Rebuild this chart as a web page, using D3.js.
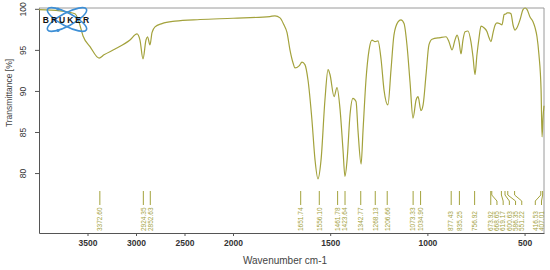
<!DOCTYPE html>
<html>
<head>
<meta charset="utf-8">
<script src="https://cdn.jsdelivr.net/npm/d3@7"></script>
<style>
  body { margin: 0; background: #fff; }
  svg { display: block; font-family: "Liberation Sans", Arial, sans-serif; }
</style>
</head>
<body>
<div id="chart"></div>
<script>
// Spectre IR (wavenumber cm-1 -> transmittance %)
const wavenumbers = [4000, 3784, 3629, 3588, 3546, 3474, 3381, 3330, 3216, 3062, 2990, 2959, 2928, 2897, 2881, 2856, 2835, 2804, 2732, 2598, 2340, 2000,
  1810, 1784, 1758, 1738, 1722, 1707, 1691, 1681, 1660, 1645, 1630, 1614, 1594, 1578, 1563, 1547, 1527, 1511, 1501, 1480, 1465, 1449, 1434, 1424,
  1413, 1398, 1383, 1367, 1357, 1341, 1331, 1316, 1300, 1285, 1269, 1254, 1238, 1223, 1203, 1187, 1172, 1151, 1136, 1120, 1105, 1089, 1074,
  1058, 1048, 1033, 1022, 1007, 992, 976, 935, 904, 889, 873, 858, 847, 837, 827, 817, 806, 791, 776, 765, 755, 745, 734, 724, 709, 693, 683,
  673, 662, 652, 642, 626, 616, 605, 595, 590, 580, 570, 559, 549, 539, 523, 508, 497, 487, 472, 456, 446, 436, 426, 415, 410, 405, 400];
const transmittance = [99.9, 99.75, 99.4, 98.4, 96.7, 95.4, 94.0, 94.4, 95.1, 96.2, 96.95, 96.2, 93.9, 96.2, 96.6, 95.6, 97.1, 97.8, 98.2, 98.5, 98.7, 98.85,
  99.06, 99.15, 98.9, 98.05, 97.1, 95.0, 93.4, 92.8, 93.05, 93.5, 93.2, 91.3, 86.5, 81.6, 79.3, 81.6, 88.9, 92.6, 92.0, 89.3, 90.4, 87.7, 82.8, 79.6,
  81.6, 87.1, 89.1, 88.7, 85.2, 81.1, 85.2, 91.3, 95.0, 96.2, 96.0, 96.1, 93.8, 90.1, 88.3, 92.6, 96.8, 98.4, 98.65, 98.2, 95.6, 91.0, 86.7,
  88.9, 89.3, 87.6, 88.3, 91.95, 95.6, 96.3, 96.5, 96.6, 96.0, 95.0, 96.2, 96.8, 96.0, 94.5, 96.2, 97.2, 97.3, 96.0, 94.1, 92.0, 94.4, 96.5, 97.9, 97.7, 97.2, 96.5,
  96.0, 97.1, 98.0, 98.3, 98.17, 98.05, 99.3, 99.4, 99.5, 99.5, 99.4, 98.0, 97.4, 97.7, 98.7, 99.9, 100.1, 99.9, 99.0, 98.4, 97.7, 96.6, 94.4, 90.1, 84.4, 86.8, 88.2];

// Pics annotés
const peaks = [3372.60, 2924.35, 2852.63, 1651.74, 1556.10, 1461.78, 1423.64, 1342.77, 1268.13, 1206.66, 1073.33, 1034.90,
  877.43, 835.25, 756.92, 673.92, 668.65, 619.17, 600.63, 586.35, 551.22, 416.53, 407.01];

const xTicks = [3500, 3000, 2500, 2000, 1500, 1000, 500];
const yTicks = [80, 85, 90, 95, 100];

const width = 550;
const height = 270;
const margin = { top: 8, right: 6, bottom: 37, left: 39 };
const olive = "#a3a23c";

const svg = d3.select("#chart").append("svg")
  .attr("width", width)
  .attr("height", height);

// Échelle x en deux segments (compression au-dessus de 2000)
const x = d3.scaleLinear()
  .domain([4000, 2000, 400])
  .range([margin.left, 233, width - margin.right]);

const y = d3.scaleLinear()
  .domain([72.7, 100.1])
  .range([height - margin.bottom, margin.top]);

// Cadre
svg.append("path")
  .attr("d", `M${margin.left},${margin.top}H${width - margin.right}V${height - margin.bottom}`)
  .attr("fill", "none")
  .attr("stroke", "#9a9a9a")
  .attr("stroke-width", 1);

// Axes
const xAxis = svg.append("g")
  .attr("transform", `translate(0,${height - margin.bottom})`)
  .call(d3.axisBottom(x).tickValues(xTicks).tickSize(3).tickSizeOuter(0).tickFormat(d3.format("d")));
xAxis.selectAll("text")
  .attr("y", 7)
  .style("font-size", "8.5px")
  .style("font-weight", "bold")
  .style("fill", "#333");

const yAxis = svg.append("g")
  .attr("transform", `translate(${margin.left},0)`)
  .call(d3.axisLeft(y).tickValues(yTicks).tickSize(4).tickSizeOuter(0));
yAxis.selectAll("text")
  .attr("x", 0)
  .attr("dy", 0)
  .attr("transform", "translate(-13,0) rotate(-90)")
  .attr("text-anchor", "middle")
  .style("font-size", "8.5px")
  .style("fill", "#333");

svg.selectAll(".domain, .tick line").attr("stroke", "#555");

// Titres
svg.append("text")
  .attr("x", 285)
  .attr("y", 264)
  .attr("text-anchor", "middle")
  .style("font-size", "10px")
  .style("fill", "#444")
  .text("Wavenumber cm-1");

svg.append("text")
  .attr("transform", "translate(12,93) rotate(-90)")
  .attr("text-anchor", "middle")
  .style("font-size", "8.5px")
  .style("fill", "#444")
  .text("Transmittance [%]");

// Spectre
const points = wavenumbers.map((w, i) => ({ w, t: transmittance[i] }));
svg.append("path")
  .datum(points)
  .attr("fill", "none")
  .attr("stroke", olive)
  .attr("stroke-width", 1.2)
  .attr("d", d3.line().x((d) => x(d.w)).y((d) => y(d.t)).curve(d3.curveMonotoneX));

// Positions des étiquettes : écarter celles qui se chevauchent
const gap = 6.2;
const marks = peaks.map((p) => ({ p, ax: x(p) })).sort((a, b) => a.ax - b.ax);
marks.forEach((m, i) => {
  m.lx = i === 0 ? m.ax : Math.max(m.ax, marks[i - 1].lx + gap);
});
for (let i = marks.length - 1; i >= 0; i--) {
  const lim = i === marks.length - 1 ? width - margin.right - 2.5 : marks[i + 1].lx - gap;
  marks[i].lx = Math.min(marks[i].lx, lim);
}

const pk = svg.append("g");
pk.selectAll("path")
  .data(marks)
  .enter()
  .append("path")
  .attr("d", (d) => `M${d.ax},191V195L${d.lx},201V205`)
  .attr("fill", "none")
  .attr("stroke", olive)
  .attr("stroke-width", 1);

pk.selectAll("text")
  .data(marks)
  .enter()
  .append("text")
  .attr("transform", (d) => `translate(${d.lx + 2.3},231) rotate(-90)`)
  .style("font-size", "6.5px")
  .style("fill", olive)
  .text((d) => d.p.toFixed(2));

// Logo Bruker
const logo = svg.append("g").attr("transform", "translate(67,19.5)");
[-28, 28].forEach((a) => {
  logo.append("ellipse")
    .attr("rx", 22)
    .attr("ry", 6.5)
    .attr("transform", `rotate(${a})`)
    .attr("fill", "none")
    .attr("stroke", "#3d8fd6")
    .attr("stroke-width", 1.6);
});
logo.append("circle").attr("cx", -9).attr("cy", -10.5).attr("r", 1.6).attr("fill", "#3d8fd6");
logo.append("circle").attr("cx", -9).attr("cy", 11).attr("r", 1.6).attr("fill", "#3d8fd6");
logo.append("text")
  .attr("x", 0)
  .attr("y", 3)
  .attr("text-anchor", "middle")
  .style("font-size", "8.5px")
  .style("font-weight", "900")
  .style("letter-spacing", "2px")
  .style("fill", "#111")
  .text("BRUKER");
</script>
</body>
</html>
